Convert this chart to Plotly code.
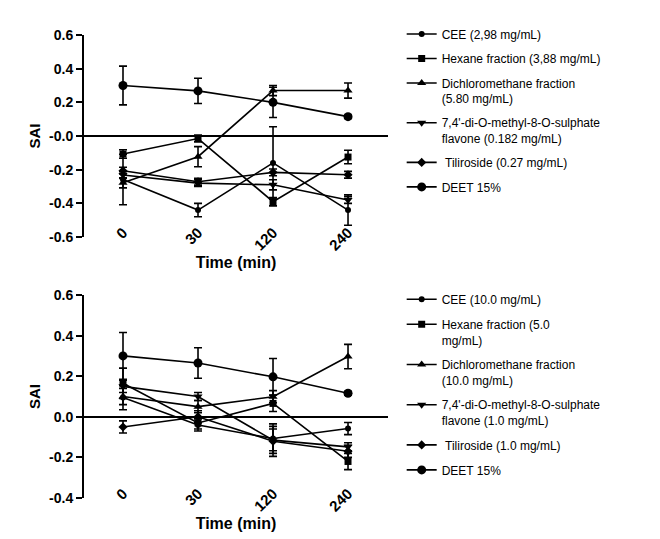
import plotly.graph_objects as go
from plotly.subplots import make_subplots

times = ["0", "30", "120", "240"]

# ---- top panel ----
top_names = ["CEE (2,98 mg/mL)", "Hexane fraction (3,88 mg/mL)",
             "Dichloromethane fraction<br>(5.80 mg/mL)",
             "7,4'-di-O-methyl-8-O-sulphate<br>flavone (0.182 mg/mL)",
             "\u00a0Tiliroside (0.27 mg/mL)", "DEET 15%"]
cee_top = [-0.258, -0.44, -0.16, -0.44]
cee_top_err = [0.15, 0.04, 0.215, 0.09]
hex_top = [-0.107, -0.015, -0.39, -0.125]
hex_top_err = [0.025, 0.02, 0.025, 0.04]
dcm_top = [-0.278, -0.123, 0.27, 0.27]
dcm_top_err = [0.03, 0.06, 0.03, 0.045]
flav_top = [-0.232, -0.28, -0.29, -0.38]
flav_top_err = [0.02, 0.02, 0.03, 0.02]
til_top = [-0.206, -0.272, -0.216, -0.23]
til_top_err = [0.02, 0.02, 0.02, 0.02]
deet_top = [0.30, 0.268, 0.20, 0.115]
deet_top_err = [0.115, 0.075, 0.09, 0.01]

# ---- bottom panel ----
bot_names = ["CEE (10.0 mg/mL)", "Hexane fraction (5.0<br>mg/mL)",
             "Dichloromethane fraction<br>(10.0 mg/mL)",
             "7,4'-di-O-methyl-8-O-sulphate<br>flavone (1.0 mg/mL)",
             "\u00a0Tiliroside (1.0 mg/mL)", "DEET 15%"]
cee_bot = [0.095, -0.04, -0.107, -0.058]
cee_bot_err = [0.06, 0.03, 0.06, 0.03]
hex_bot = [0.165, -0.03, 0.066, -0.22]
hex_bot_err = [0.075, 0.03, 0.04, 0.04]
dcm_bot = [0.10, 0.05, 0.099, 0.297]
dcm_bot_err = [0.04, 0.03, 0.03, 0.06]
flav_bot = [0.15, 0.10, -0.115, -0.148]
flav_bot_err = [0.03, 0.02, 0.08, 0.02]
til_bot = [-0.05, 0.0, -0.12, -0.17]
til_bot_err = [0.03, 0.03, 0.06, 0.03]
deet_bot = [0.30, 0.265, 0.197, 0.116]
deet_bot_err = [0.115, 0.075, 0.09, 0.01]

symbols = ["circle", "square", "triangle-up", "triangle-down", "diamond", "circle"]
sizes = [6, 7, 8, 8, 7, 9]

top_vals = [cee_top, hex_top, dcm_top, flav_top, til_top, deet_top]
top_errs = [cee_top_err, hex_top_err, dcm_top_err, flav_top_err, til_top_err, deet_top_err]
bot_vals = [cee_bot, hex_bot, dcm_bot, flav_bot, til_bot, deet_bot]
bot_errs = [cee_bot_err, hex_bot_err, dcm_bot_err, flav_bot_err, til_bot_err, deet_bot_err]

fig = make_subplots(rows=2, cols=1)
xidx = list(range(len(times)))

for row, names, vals, errs, lg in [(1, top_names, top_vals, top_errs, "legend"),
                                   (2, bot_names, bot_vals, bot_errs, "legend2")]:
    for i in range(6):
        fig.add_trace(go.Scatter(
            x=xidx, y=vals[i], name=names[i], mode="lines+markers",
            line=dict(color="black", width=1.6),
            marker=dict(symbol=symbols[i], size=sizes[i], color="black"),
            error_y=dict(type="data", array=errs[i], color="black", thickness=1.6, width=4),
            legend=lg, legendgroup=f"{lg}_{i}"), row=row, col=1)

axis_font = dict(family="Liberation Sans", size=14, color="black")
common_x = dict(range=[-0.52, 3.533], tickvals=xidx, ticktext=[f"<b>{t}</b>" for t in times],
                tickangle=-45, showline=False, ticks="", showgrid=False, zeroline=False,
                tickfont=dict(family="Liberation Sans", size=15, color="black"),
                ticklabelstandoff=-17, automargin=False,
                title=dict(text="<b>Time (min)</b>", font=dict(family="Liberation Sans", size=16, color="black"), standoff=2))
fig.update_xaxes(**common_x)

top_ticks = [-0.6, -0.4, -0.2, 0.0, 0.2, 0.4, 0.6]
top_ticktext = ["-0.6", "-0.4", "-0.2", "-0.0", "0.2", "0.4", "0.6"]
bot_ticks = [-0.4, -0.2, 0.0, 0.2, 0.4, 0.6]
bot_ticktext = ["-0.4", "-0.2", "0.0", "0.2", "0.4", "0.6"]

ycommon = dict(showline=True, linecolor="black", linewidth=2, ticks="outside", ticklen=6,
               tickwidth=2, tickcolor="black", showgrid=False, zeroline=True, automargin=False,
               zerolinecolor="black", zerolinewidth=2, tickfont=axis_font,
               title=dict(text="<b>SAI</b>", font=dict(family="Liberation Sans", size=15, color="black"), standoff=5))
fig.update_yaxes(**ycommon)
fig.update_yaxes(range=[-0.6, 0.6], tickvals=top_ticks, ticktext=[f"<b>{t}</b>" for t in top_ticktext],
                 domain=[0.5637, 1.0], row=1, col=1)
fig.update_yaxes(range=[-0.4, 0.6], tickvals=bot_ticks, ticktext=[f"<b>{t}</b>" for t in bot_ticktext],
                 domain=[0.0, 0.4384], row=2, col=1)

leg_common = dict(font=dict(family="Liberation Sans", size=12, color="black"),
                  bgcolor="rgba(0,0,0,0)", valign="top",
                  xanchor="left", yanchor="top", itemwidth=30)
fig.update_layout(
    width=660, height=539,
    margin=dict(l=76, r=280, t=27, b=49, autoexpand=False),
    paper_bgcolor="white", plot_bgcolor="white",
    showlegend=True,
    legend=dict(x=1.045, y=1.033, tracegroupgap=5.5, **leg_common),
    legend2=dict(x=1.045, y=0.46, tracegroupgap=6, **leg_common),
)

fig.write_html("out.html")
